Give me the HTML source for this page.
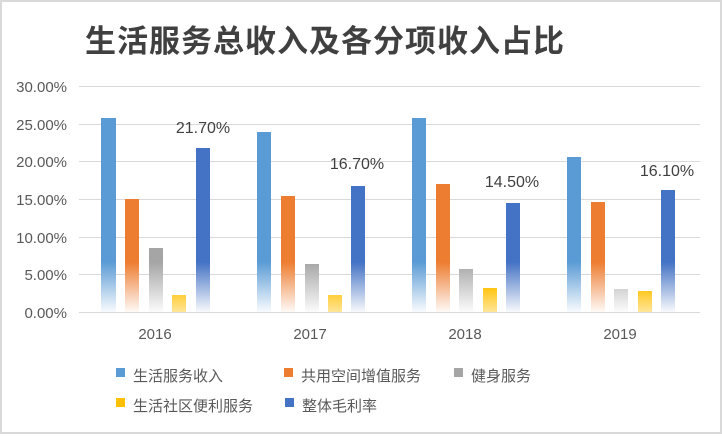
<!DOCTYPE html>
<html><head><meta charset="utf-8"><style>
body{margin:0;background:#fff}
svg text{font-family:"Liberation Sans","Noto Sans CJK SC",sans-serif}
</style></head><body>
<svg width="722" height="434" viewBox="0 0 722 434" xmlns="http://www.w3.org/2000/svg">
<defs>
<linearGradient id="gb" gradientUnits="userSpaceOnUse" x1="0" y1="262" x2="0" y2="314"><stop offset="0" stop-color="#5b9bd5"/><stop offset="1" stop-color="#fff"/></linearGradient>
<linearGradient id="go" gradientUnits="userSpaceOnUse" x1="0" y1="262" x2="0" y2="314"><stop offset="0" stop-color="#ed7d31"/><stop offset="1" stop-color="#fff"/></linearGradient>
<linearGradient id="gg" gradientUnits="userSpaceOnUse" x1="0" y1="262" x2="0" y2="314"><stop offset="0" stop-color="#a5a5a5"/><stop offset="1" stop-color="#fff"/></linearGradient>
<linearGradient id="gy" gradientUnits="userSpaceOnUse" x1="0" y1="285" x2="0" y2="330"><stop offset="0" stop-color="#ffc000"/><stop offset="1" stop-color="#fff"/></linearGradient>
<linearGradient id="gd" gradientUnits="userSpaceOnUse" x1="0" y1="262" x2="0" y2="314"><stop offset="0" stop-color="#4472c4"/><stop offset="1" stop-color="#fff"/></linearGradient>
</defs>
<rect x="1" y="1" width="720" height="432" fill="#fff" stroke="#d9d9d9" stroke-width="2"/>
<text x="85" y="52" font-size="31" font-weight="bold" fill="#404040" letter-spacing="1">生活服务总收入及各分项收入占比</text>
<g stroke="#d9d9d9" stroke-width="1">
<line x1="79" y1="86.5" x2="700" y2="86.5"/><line x1="79" y1="124.5" x2="700" y2="124.5"/>
<line x1="79" y1="161.5" x2="700" y2="161.5"/><line x1="79" y1="199.5" x2="700" y2="199.5"/>
<line x1="79" y1="237.5" x2="700" y2="237.5"/><line x1="79" y1="274.5" x2="700" y2="274.5"/>
<line x1="79" y1="312.5" x2="700" y2="312.5"/>
</g>
<g font-size="15" fill="#595959" text-anchor="end">
<text x="67" y="92">30.00%</text><text x="67" y="130">25.00%</text><text x="67" y="167">20.00%</text>
<text x="67" y="205">15.00%</text><text x="67" y="243">10.00%</text><text x="67" y="280">5.00%</text><text x="67" y="318">0.00%</text>
</g>
<g font-size="15" fill="#595959" text-anchor="middle">
<text x="155" y="339">2016</text><text x="310" y="339">2017</text><text x="465" y="339">2018</text><text x="620" y="339">2019</text>
</g>
<g id="bars">
<rect x="101" y="118" width="15" height="194" fill="url(#gb)"/>
<rect x="125" y="199" width="14" height="113" fill="url(#go)"/>
<rect x="149" y="248" width="14" height="64" fill="url(#gg)"/>
<rect x="172" y="295" width="14" height="17" fill="url(#gy)"/>
<rect x="196" y="148" width="14" height="164" fill="url(#gd)"/>
<rect x="257" y="132" width="14" height="180" fill="url(#gb)"/>
<rect x="281" y="196" width="14" height="116" fill="url(#go)"/>
<rect x="305" y="264" width="14" height="48" fill="url(#gg)"/>
<rect x="328" y="295" width="14" height="17" fill="url(#gy)"/>
<rect x="351" y="186" width="14" height="126" fill="url(#gd)"/>
<rect x="412" y="118" width="14" height="194" fill="url(#gb)"/>
<rect x="436" y="184" width="14" height="128" fill="url(#go)"/>
<rect x="459" y="269" width="14" height="43" fill="url(#gg)"/>
<rect x="483" y="288" width="14" height="24" fill="url(#gy)"/>
<rect x="506" y="203" width="14" height="109" fill="url(#gd)"/>
<rect x="567" y="157" width="14" height="155" fill="url(#gb)"/>
<rect x="591" y="202" width="14" height="110" fill="url(#go)"/>
<rect x="614" y="289" width="14" height="23" fill="url(#gg)"/>
<rect x="638" y="291" width="14" height="21" fill="url(#gy)"/>
<rect x="661" y="190" width="14" height="122" fill="url(#gd)"/>
</g>
<g font-size="16" fill="#404040" text-anchor="middle">
<text x="203" y="133">21.70%</text><text x="357" y="169">16.70%</text><text x="512" y="187">14.50%</text><text x="667" y="176">16.10%</text>
</g>
<g font-size="15" fill="#595959">
<rect x="116" y="368" width="9" height="9" fill="#5b9bd5"/><text x="133" y="381">生活服务收入</text>
<rect x="284" y="368" width="9" height="9" fill="#ed7d31"/><text x="301" y="381">共用空间增值服务</text>
<rect x="454" y="368" width="9" height="9" fill="#a5a5a5"/><text x="471" y="381">健身服务</text>
<rect x="116" y="398" width="9" height="9" fill="#ffc000"/><text x="133" y="411">生活社区便利服务</text>
<rect x="285" y="398" width="9" height="9" fill="#4472c4"/><text x="302" y="411">整体毛利率</text>
</g>
</svg>
</body></html>
